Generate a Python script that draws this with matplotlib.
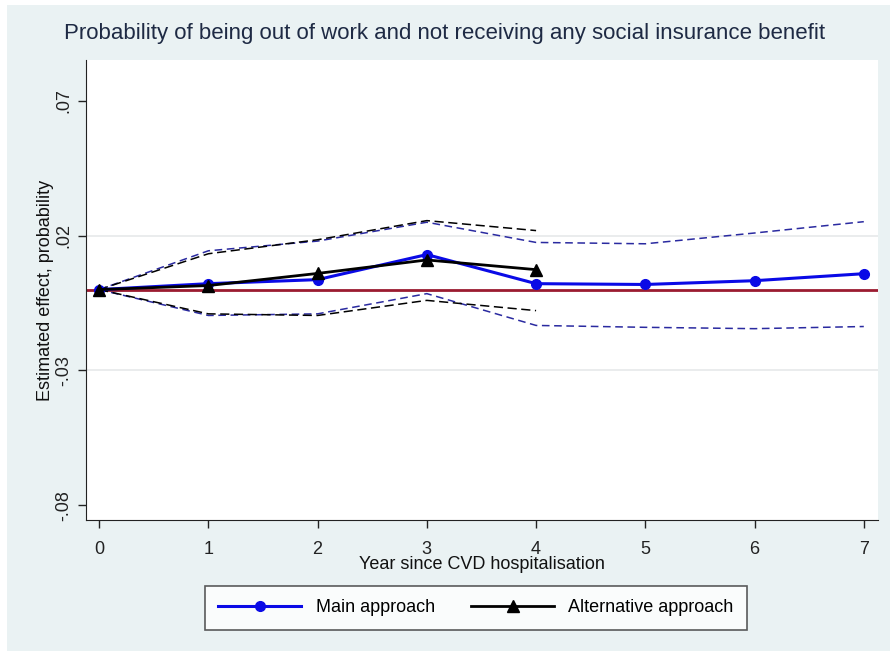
import matplotlib
matplotlib.use('Agg')
import matplotlib.pyplot as plt
from matplotlib.patches import Rectangle

plt.rcParams['font.family'] = ['Liberation Sans', 'DejaVu Sans']

# Main approach: point estimates and 95% CI
years_main = [0, 1, 2, 3, 4, 5, 6, 7]
main_est = [0.0, 0.0022, 0.0037, 0.0130, 0.0022, 0.0019, 0.0033, 0.0059]
main_hi = [0.0, 0.0144, 0.0180, 0.0250, 0.0175, 0.0170, 0.0210, 0.0252]
main_lo = [0.0, -0.0096, -0.0090, -0.0015, -0.0133, -0.0140, -0.0145, -0.0137]

# Alternative approach
years_alt = [0, 1, 2, 3, 4]
alt_est = [0.0, 0.0015, 0.0060, 0.0110, 0.0074]
alt_hi = [0.0, 0.0133, 0.0185, 0.0256, 0.0219]
alt_lo = [0.0, -0.0090, -0.0096, -0.0040, -0.0078]

yticks = [0.07, 0.02, -0.03, -0.08]
ytick_labels = ['.07', '.02', '-.03', '-.08']

bg = '#EAF2F3'
fig = plt.figure(figsize=(8.9, 6.51), dpi=100)
fig.patch.set_facecolor('white')
fig.patches.append(Rectangle((7 / 890, 0), 1, 1 - 5 / 651, transform=fig.transFigure,
                             facecolor=bg, edgecolor='none', zorder=-10))

ax = fig.add_axes([86 / 890, 1 - 520 / 651, (878 - 86) / 890, (520 - 60) / 651])
ax.set_facecolor('white')

# gridlines at inner ticks
for g in [0.02, -0.03]:
    ax.axhline(g, color='#E6E9EA', linewidth=1.2, zorder=0)

ax.axhline(0, color='#9B1B30', linewidth=2, zorder=1)

ax.plot(years_main, main_hi, '--', color='#2A2AA0', linewidth=1.1, dashes=(5, 3), zorder=2)
ax.plot(years_main, main_lo, '--', color='#2A2AA0', linewidth=1.1, dashes=(5, 3), zorder=2)
ax.plot(years_alt, alt_hi, '--', color='black', linewidth=1.1, dashes=(6, 3), zorder=2)
ax.plot(years_alt, alt_lo, '--', color='black', linewidth=1.1, dashes=(6, 3), zorder=2)

ax.plot(years_main, main_est, '-o', color='#0A0AE6', linewidth=2.2, markersize=7,
        label='Main approach', zorder=3)
ax.plot(years_alt, alt_est, '-^', color='black', linewidth=2.0, markersize=8,
        label='Alternative approach', zorder=4)

ax.set_xlim(-0.12, 7.13)
ax.set_ylim(-0.0855, 0.0852)
ax.set_xticks(range(8))
ax.set_yticks(yticks)
ax.set_yticklabels(ytick_labels, rotation=90, va='center')
ax.tick_params(axis='both', labelsize=13, length=6, width=1, colors='#222222')
ax.tick_params(axis='x', pad=9)
ax.tick_params(axis='y', pad=4)

for s in ['top', 'right']:
    ax.spines[s].set_visible(False)
for s in ['left', 'bottom']:
    ax.spines[s].set_color('#222222')

ax.set_xlabel('Year since CVD hospitalisation', fontsize=13, labelpad=-1, color='#111111')
ax.set_ylabel('Estimated effect, probability', fontsize=13, labelpad=1, color='#111111')

fig.text(0.5, 1 - 33 / 651, 'Probability of being out of work and not receiving any social insurance benefit',
         ha='center', va='center', fontsize=16, color='#1E2A44')

leg = fig.legend(loc='center', bbox_to_anchor=(476 / 890, 1 - 608 / 651), ncol=2,
                 fontsize=13, frameon=True, fancybox=False, edgecolor='#333333',
                 handlelength=4.6, columnspacing=2.0, borderpad=0.75, handletextpad=0.8)
leg.get_frame().set_linewidth(1.2)

plt.savefig('out.png', dpi=100, facecolor=fig.get_facecolor())
